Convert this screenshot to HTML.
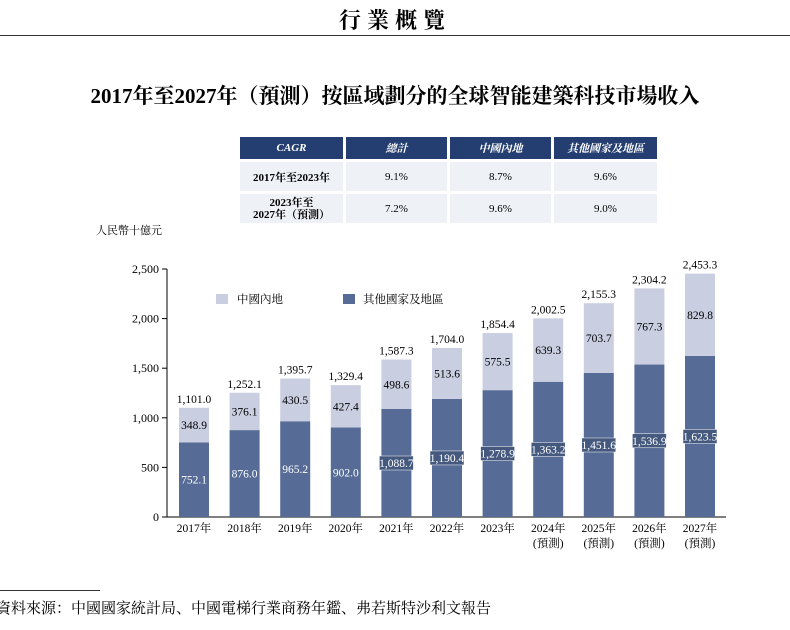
<!DOCTYPE html>
<html><head><meta charset="utf-8"><style>
body{margin:0;width:790px;height:630px;background:#fff;font-family:"Liberation Serif","Noto Serif CJK SC",serif;overflow:hidden;position:relative}
.abs{position:absolute}
table{border-collapse:separate;border-spacing:3px 3px}
td{padding:0}
</style></head><body>
<div class="abs" style="left:0;top:4px;width:790px;text-align:center;font-size:22px;letter-spacing:6px;font-weight:bold;font-family:'Noto Serif CJK SC',serif">行業概覽</div>
<div class="abs" style="left:0;top:35px;width:790px;height:1px;background:#333"></div>
<div class="abs" style="left:0;top:80px;width:790px;text-align:center;font-size:21px;font-weight:bold;font-family:'Liberation Serif','Noto Serif CJK SC',serif">2017年至2027年（預測）按區域劃分的全球智能建築科技市場收入</div>
<div class="abs" style="left:237px;top:134px">
<table style="font-size:11px;text-align:center">
<tr style="height:22px;color:#fff;font-style:italic;font-weight:bold">
<td style="width:103px;background:#243e72">CAGR</td><td style="width:101px;background:#243e72">總計</td><td style="width:101px;background:#243e72">中國內地</td><td style="width:103px;background:#243e72">其他國家及地區</td></tr>
<tr style="height:29px;background:#eef1f6"><td style="font-weight:bold">2017年至2023年</td><td>9.1%</td><td>8.7%</td><td>9.6%</td></tr>
<tr style="height:29px;background:#eef1f6;line-height:12px"><td style="font-weight:bold">2023年至<br>2027年（預測）</td><td>7.2%</td><td>9.6%</td><td>9.0%</td></tr>
</table></div>
<div class="abs" style="left:96px;top:222px;font-size:11px">人民幣十億元</div>
<svg class="abs" style="left:0;top:0" width="790" height="630" id="chart"></svg>
<div class="abs" style="left:0;top:590px;width:100px;height:1px;background:#333"></div>
<div class="abs" style="left:-4px;top:597px;font-size:15px">資料來源：中國國家統計局、中國電梯行業商務年鑑、弗若斯特沙利文報告</div>
<script>
const years=["2017年","2018年","2019年","2020年","2021年","2022年","2023年","2024年","2025年","2026年","2027年"];
const forecast=[false,false,false,false,false,false,false,true,true,true,true];
const other=[752.1,876.0,965.2,902.0,1088.7,1190.4,1278.9,1363.2,1451.6,1536.9,1623.5];
const china=[348.9,376.1,430.5,427.4,498.6,513.6,575.5,639.3,703.7,767.3,829.8];
const totals=["1,101.0","1,252.1","1,395.7","1,329.4","1,587.3","1,704.0","1,854.4","2,002.5","2,155.3","2,304.2","2,453.3"];
const yTicks=[0,500,1000,1500,2000,2500];
const yTickLabels=["0","500","1,000","1,500","2,000","2,500"];
const svg=document.getElementById('chart');const NS="http://www.w3.org/2000/svg";
const y0=517,yTop=269,yMax=2500;const y=v=>y0-(v/yMax)*(y0-yTop);
const x=i=>194+i*50.6;const bw=30;
function mk(t,a,txt){const e=document.createElementNS(NS,t);for(const k in a)e.setAttribute(k,a[k]);if(txt!=null)e.textContent=txt;svg.appendChild(e);return e;}
const fmt=v=>v.toLocaleString('en-US',{minimumFractionDigits:1,maximumFractionDigits:1});
let ax=mk('line',{x1:167,y1:269,x2:167,y2:517,stroke:'#000'});
ax=mk('line',{x1:167,y1:517,x2:726,y2:517,stroke:'#000'});
yTicks.forEach((t,i)=>{let l=mk('line',{x1:162,x2:167,y1:y(t),y2:y(t),stroke:'#000'});
let tx=mk('text',{x:159,y:y(t)+4,'text-anchor':'end','font-size':12},yTickLabels[i]);});
years.forEach((yr,i)=>{const cx=x(i);
let r=mk('rect',{x:cx-bw/2,y:y(other[i]),width:bw,height:y0-y(other[i]),fill:'#566c96'});
r=mk('rect',{x:cx-bw/2,y:y(other[i]+china[i]),width:bw,height:y(other[i])-y(other[i]+china[i]),fill:'#c9cee1'});
const om=(y0+y(other[i]))/2;
if(i>=4){let b=mk('rect',{x:cx-17,y:om-7,width:34,height:14,fill:'#45597f',stroke:'#fff','stroke-width':0.5});}
let t=mk('text',{x:cx,y:om+4,'text-anchor':'middle','font-size':11.5,fill:'#fff'},fmt(other[i]));
t=mk('text',{x:cx,y:(y(other[i])+y(other[i]+china[i]))/2+4,'text-anchor':'middle','font-size':11.5},fmt(china[i]));
t=mk('text',{x:cx,y:y(other[i]+china[i])-5,'text-anchor':'middle','font-size':11.5},totals[i]);
t=mk('text',{x:cx,y:532,'text-anchor':'middle','font-size':11.5},yr);
if(forecast[i]){t=mk('text',{x:cx,y:547,'text-anchor':'middle','font-size':11.5},'(預測)');}
});
let lg=mk('rect',{x:216,y:294,width:12,height:10,fill:'#c9cee1'});
lg=mk('text',{x:237,y:303,'font-size':11.5},'中國內地');
lg=mk('rect',{x:343,y:294,width:12,height:10,fill:'#566c96'});
lg=mk('text',{x:363,y:303,'font-size':11.5},'其他國家及地區');
</script>
</body></html>
